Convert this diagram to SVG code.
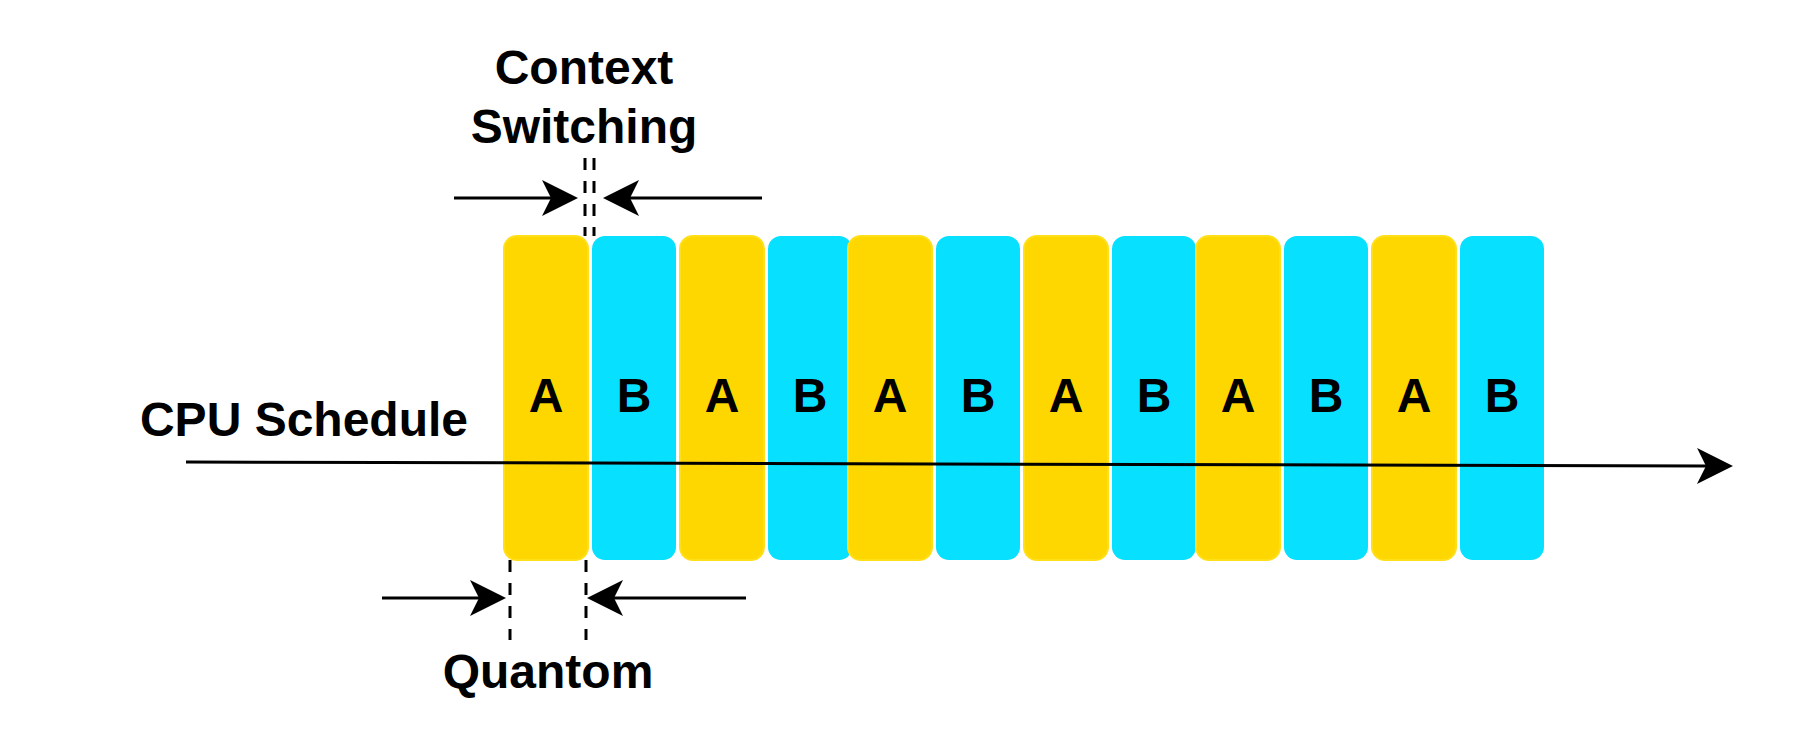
<svg xmlns="http://www.w3.org/2000/svg" width="1808" height="744" viewBox="0 0 1808 744">
<style>
.ya{fill:#FFD700;stroke:#FFDF1A;stroke-width:2}
.cb{fill:#07E0FF;stroke:none}
.lbl{font-family:"Liberation Sans",Arial,sans-serif;font-weight:bold;font-size:48px;fill:#000;text-anchor:middle}
.ln{stroke:#000;stroke-width:3;fill:none}
.dash{stroke:#000;stroke-width:3;fill:none;stroke-dasharray:12 11}
</style>
<defs>
<marker id="ah" markerUnits="userSpaceOnUse" markerWidth="36" markerHeight="36" viewBox="0 0 36 36" refX="9" refY="18" orient="auto" overflow="visible">
<path d="M36,18 L0,0 L9,18 L0,36 Z" fill="#000"/>
</marker>
</defs>
<rect width="1808" height="744" fill="#fff"/>
<g id="n1"><rect class="ya" x="504" y="236" width="84" height="324" rx="13"/><text class="lbl" x="546" y="412">A</text></g>
<g id="n2"><rect class="cb" x="592" y="236" width="84" height="324" rx="13"/><text class="lbl" x="634" y="412">B</text></g>
<g id="n3"><rect class="ya" x="680" y="236" width="84" height="324" rx="13"/><text class="lbl" x="722" y="412">A</text></g>
<g id="n4"><rect class="cb" x="768" y="236" width="84" height="324" rx="13"/><text class="lbl" x="810" y="412">B</text></g>
<g id="n5"><rect class="ya" x="848" y="236" width="84" height="324" rx="13"/><text class="lbl" x="890" y="412">A</text></g>
<g id="n6"><rect class="cb" x="936" y="236" width="84" height="324" rx="13"/><text class="lbl" x="978" y="412">B</text></g>
<g id="n7"><rect class="ya" x="1024" y="236" width="84" height="324" rx="13"/><text class="lbl" x="1066" y="412">A</text></g>
<g id="n8"><rect class="cb" x="1112" y="236" width="84" height="324" rx="13"/><text class="lbl" x="1154" y="412">B</text></g>
<g id="n9"><rect class="ya" x="1196" y="236" width="84" height="324" rx="13"/><text class="lbl" x="1238" y="412">A</text></g>
<g id="n10"><rect class="cb" x="1284" y="236" width="84" height="324" rx="13"/><text class="lbl" x="1326" y="412">B</text></g>
<g id="n11"><rect class="ya" x="1372" y="236" width="84" height="324" rx="13"/><text class="lbl" x="1414" y="412">A</text></g>
<g id="n12"><rect class="cb" x="1460" y="236" width="84" height="324" rx="13"/><text class="lbl" x="1502" y="412">B</text></g>
<g id="labels">
<text class="lbl" x="304" y="436">CPU Schedule</text>
<text class="lbl" x="584" y="84">Context</text>
<text class="lbl" x="584" y="143">Switching</text>
<text class="lbl" x="548" y="688">Quantom</text>
</g>
<g id="connectors">
<line class="dash" x1="585" y1="158" x2="585" y2="236"/>
<line class="dash" x1="594" y1="158" x2="594" y2="236"/>
<line class="dash" x1="510" y1="560" x2="510" y2="640"/>
<line class="dash" x1="586" y1="560" x2="586" y2="640"/>
<line class="ln" x1="454" y1="198" x2="551" y2="198" marker-end="url(#ah)"/>
<line class="ln" x1="762" y1="198" x2="630" y2="198" marker-end="url(#ah)"/>
<line class="ln" x1="382" y1="598" x2="479" y2="598" marker-end="url(#ah)"/>
<line class="ln" x1="746" y1="598" x2="614" y2="598" marker-end="url(#ah)"/>
<line class="ln" x1="186" y1="462" x2="1706" y2="466" marker-end="url(#ah)"/>
</g>
</svg>
